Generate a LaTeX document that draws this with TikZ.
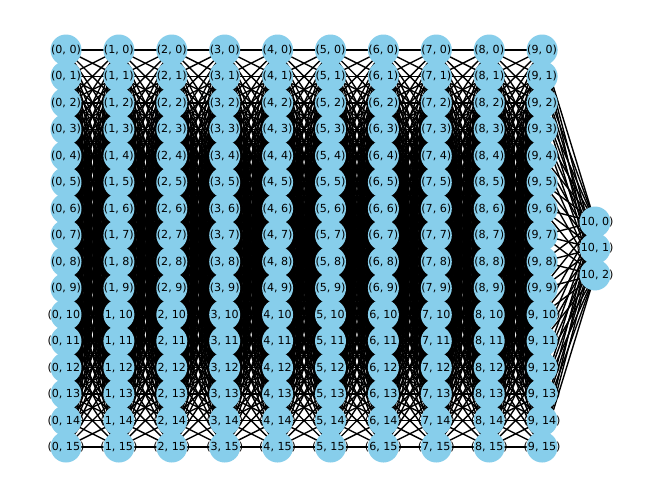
\documentclass[tikz,border=0pt]{standalone}
\usepackage{fontspec}
\setmainfont{DejaVu Sans}
\pgfdeclarelayer{bg}
\pgfdeclarelayer{fg}
\pgfsetlayers{bg,main,fg}
\tikzset{
  dot/.style={circle, fill={rgb,255:red,135;green,206;blue,235}, draw=none, minimum size=31pt, inner sep=0pt},
  edge/.style={line width=1.39pt, black},
  lbl/.style={font=\fontsize{11.1}{13}\selectfont, inner sep=0pt, text=black}
}
\begin{document}
\begin{tikzpicture}[x=1pt, y=-1pt]
\useasboundingbox (0,0) rectangle (660,499);
% nodes
\foreach \i in {0,...,9}{
  \foreach \j in {0,...,15}{
    \node[dot] (n-\i-\j) at ({66+52.9*\i},{50+26.467*\j}) {};
  }
}
\foreach \j in {0,1,2}{
  \node[dot] (n-10-\j) at (595,{222+26.467*\j}) {};
}
% edges
\begin{pgfonlayer}{bg}
\fill[white] (0,0) rectangle (660,499);
\foreach \i in {0,...,8}{
  \pgfmathtruncatemacro{\k}{\i+1}
  \foreach \a in {0,...,15}{
    \foreach \b in {0,...,15}{
      \draw[edge] (n-\i-\a.center) -- (n-\k-\b.center);
    }
  }
}
\foreach \a in {0,...,15}{
  \foreach \b in {0,1,2}{
    \draw[edge] (n-9-\a.center) -- (n-10-\b.center);
  }
}
\end{pgfonlayer}
% labels
\begin{pgfonlayer}{fg}
\foreach \i in {0,...,9}{
  \foreach \j in {0,...,15}{
    \node[lbl] (l-\i-\j) at (n-\i-\j) {(\i, \j)};
  }
}
\foreach \j in {0,1,2}{
  \node[lbl] (l-10-\j) at (n-10-\j) {(10, \j)};
}
\end{pgfonlayer}
\end{tikzpicture}
\end{document}
